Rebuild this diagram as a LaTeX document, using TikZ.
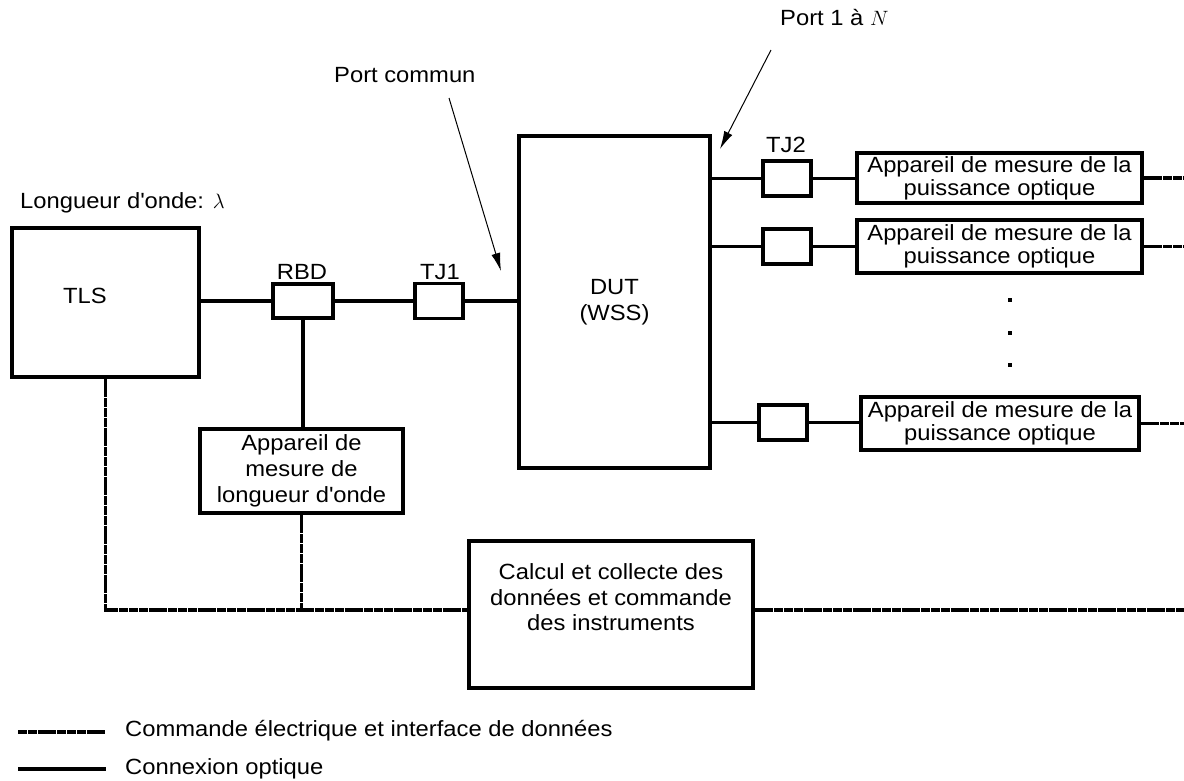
\documentclass[tikz,border=0pt]{standalone}
\usepackage{fontspec}
\setmainfont[FakeStretch=1.08]{Liberation Sans}
\usetikzlibrary{arrows.meta}
\newcommand\apos{\textquotesingle}
\begin{document}
\begin{tikzpicture}[x=1pt,y=-1pt,
  every node/.style={font=\fontsize{22}{26}\selectfont, inner sep=0pt},
  box/.style={draw, line width=3.3pt, rectangle, align=center},
  opt/.style={line width=3.3pt},
  elec/.style={line width=3.3pt, dash pattern=on 9pt off 0.8pt},
  lbl/.style={align=center},
  pmtext/.style={font=\fontsize{22}{23}\selectfont},
  calctext/.style={font=\fontsize{22}{25.5}\selectfont},
  callout/.style={line width=1pt, -{Latex[length=18pt,width=9pt]}}]
\useasboundingbox (0,0) rectangle (1184,780);
% boxes
\node[box, minimum width=187pt, minimum height=149pt] (tls) at (105.5,302.5) {};
\node[lbl] (tlst) at (85,296) {TLS};
\node[box, minimum width=60pt, minimum height=34pt] (rbd) at (303,301) {};
\node[box, minimum width=48pt, minimum height=35pt] (tj1) at (439,301) {};
\node[box, minimum width=191pt, minimum height=332pt] (dut) at (614.5,302) {DUT\\(WSS)};
\node[box, minimum width=203pt, minimum height=84pt] (wm) at (301.5,471) {Appareil de\\mesure de\\longueur d\apos onde};
\node[box, minimum width=284pt, minimum height=147pt] (calc) at (611,614.5) {};
\node[lbl, calctext] (calct) at (611,597.5) {Calcul et collecte des\\données et commande\\des instruments};
\node[box, minimum width=48pt, minimum height=35pt] (tja) at (787,178.5) {};
\node[box, minimum width=48pt, minimum height=35pt] (tjb) at (787,246.5) {};
\node[box, minimum width=48pt, minimum height=35pt] (tjc) at (783,422.5) {};
\node[box, pmtext, minimum width=285pt, minimum height=50pt] (pma) at (999.5,178) {Appareil de mesure de la\\puissance optique};
\node[box, pmtext, minimum width=285pt, minimum height=53pt] (pmb) at (999.5,246.5) {Appareil de mesure de la\\puissance optique};
\node[box, pmtext, minimum width=278pt, minimum height=53pt] (pmc) at (1000,423.5) {Appareil de mesure de la\\puissance optique};
% labels
\node (rbdl) at (302,272) {RBD};
\node (tj1l) at (440,272) {TJ1};
\node (tj2l) at (786,145) {TJ2};
\node[anchor=west] (lam) at (20,203) {Longueur d\apos onde: $\lambda$};
\node[anchor=west] (pc) at (334,75) {Port commun};
\node[anchor=west] (pn) at (780,18) {Port 1 à $N$};
% coordinates
\coordinate (bus) at (0,610);
\coordinate (redge) at (1184,0);
\coordinate (pcs) at (449,98);
\coordinate (pct) at (501,271);
\coordinate (pns) at (771,50);
\coordinate (pnt) at (720,149);
% optical connections
\draw[opt] (tls.east |- rbd.west) -- (rbd.west);
\draw[opt] (rbd.east) -- (tj1.west);
\draw[opt] (tj1.east) -- (dut.west |- tj1.east);
\draw[opt] (rbd.south) -- (rbd.south |- wm.north);
\draw[opt] ([xshift=-3pt]dut.east |- tja.west) -- (tja.west);
\draw[opt] (tja.east) -- (pma.west |- tja.east);
\draw[opt] ([xshift=-3pt]dut.east |- tjb.west) -- (tjb.west);
\draw[opt] (tjb.east) -- (pmb.west |- tjb.east);
\draw[opt] ([xshift=-3pt]dut.east |- tjc.west) -- (tjc.west);
\draw[opt] (tjc.east) -- (pmc.west |- tjc.east);
% electrical connections
\draw[elec] (tls.south) |- (calc.west |- bus);
\draw[elec] (wm.south) -- (wm.south |- bus);
\draw[elec] (calc.east |- bus) -- (redge |- bus);
\draw[elec] (pma.east) -- (redge |- pma.east);
\draw[elec] (pmb.east) -- (redge |- pmb.east);
\draw[elec] (pmc.east) -- (redge |- pmc.east);
% dots
\fill (1008,298) rectangle (1012,302);
\fill (1008,331) rectangle (1012,335);
\fill (1008,363) rectangle (1012,367);
% callouts
\draw[callout] (pcs) -- (pct);
\draw[callout] (pns) -- (pnt);
% legend
\coordinate (la1) at (18,732);
\coordinate (la2) at (106,732);
\coordinate (lb1) at (18,769);
\coordinate (lb2) at (106,769);
\draw[elec] (la1) -- (la2);
\draw[opt] (lb1) -- (lb2);
\node[anchor=west] (lta) at (125,731) {Commande électrique et interface de données};
\node[anchor=west] (ltb) at (125,769) {Connexion optique};
\end{tikzpicture}
\end{document}
